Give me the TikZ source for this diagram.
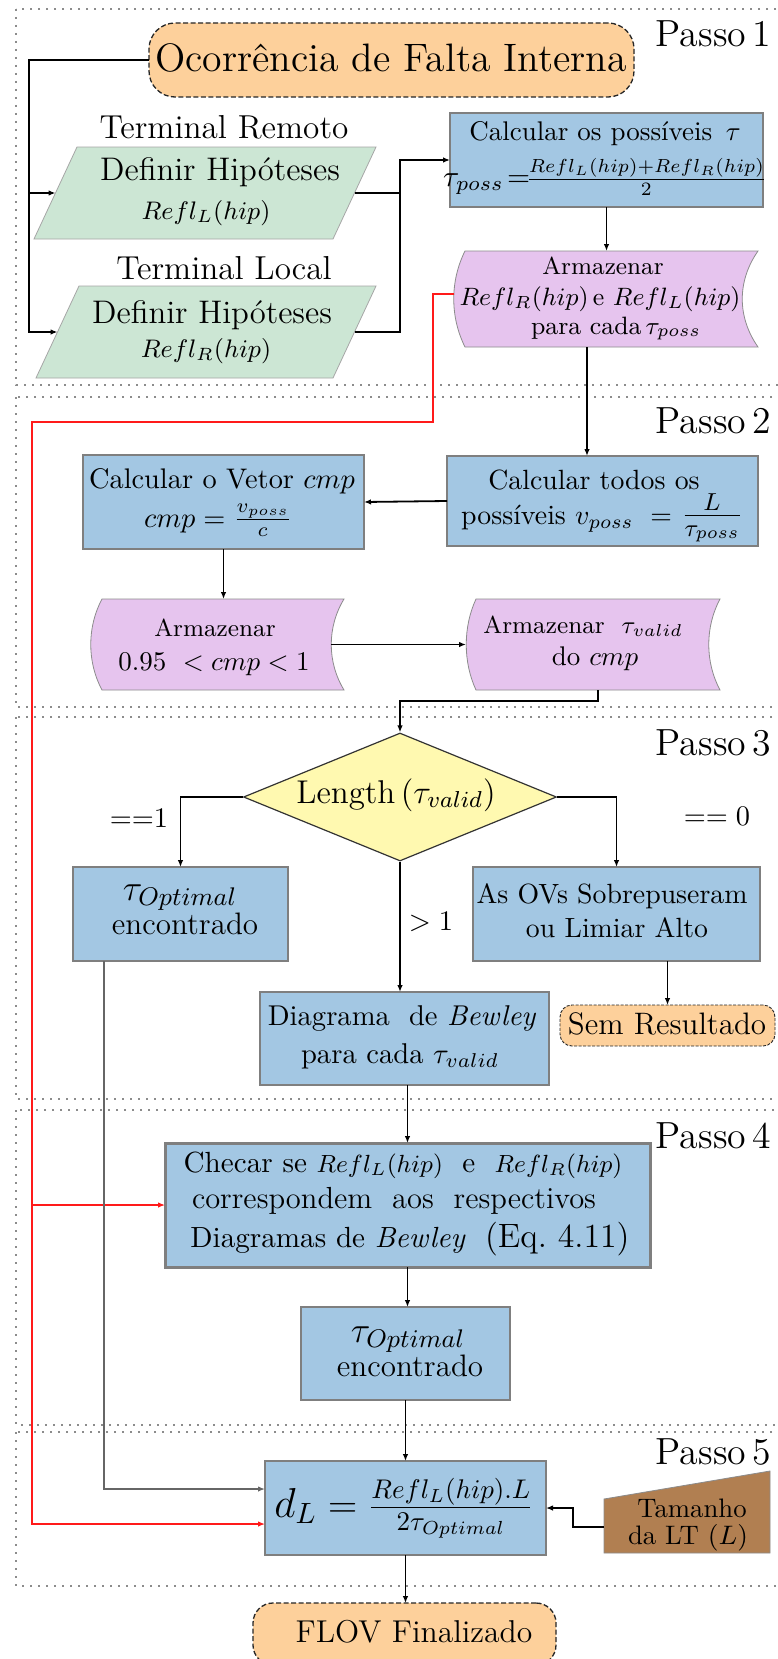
\RequirePackage{fix-cm}
\documentclass[tikz,border=0pt]{standalone}
\usepackage{graphicx}
\usetikzlibrary{arrows.meta,calc,shapes.geometric}

\definecolor{peach}{HTML}{FDD09B}
\definecolor{mint}{HTML}{CCE6D4}
\definecolor{sky}{HTML}{A3C7E3}
\definecolor{lilac}{HTML}{E6C4EE}
\definecolor{lemon}{HTML}{FFF9B0}
\definecolor{clay}{HTML}{B17F51}
\definecolor{boxline}{HTML}{7F7F7F}
\definecolor{dotline}{HTML}{8C8C8C}
\definecolor{alert}{HTML}{FF1A1A}

% text set at a nominal size and enlarged uniformly
\newcommand\txs[2]{\scalebox{2.7}{\fontsize{#1}{#1}\selectfont #2}}

\tikzset{
  stepframe/.style={draw=dotline, line width=2pt, dash pattern=on 2pt off 6pt},
  blank/.style={rectangle, inner sep=0pt, outer sep=0pt},
  procbox/.style={blank, fill=sky, draw=boxline, line width=2pt},
  termbox/.style={blank, fill=peach, draw=black!85, dash pattern=on 5pt off 2.5pt, line width=1.3pt},
  inbox/.style={fill=mint, draw=black!35, line width=0.8pt},
  storebox/.style={fill=lilac, draw=black!45, line width=0.8pt},
  lbl/.style={anchor=base, inner sep=0pt, outer sep=0pt},
  tip/.style={-{Latex[length=7pt,width=5.5pt]}},
  link/.style={tip, line width=1.3pt},
  plainlink/.style={line width=1.3pt},
  heavylink/.style={tip, line width=1.8pt},
  greylink/.style={tip, line width=1.3pt, draw=black!60},
  redlink/.style={line width=1.2pt, draw=alert, -{Latex[length=7pt,width=5.5pt,fill=alert]}},
}

\begin{document}
\begin{tikzpicture}[x=1pt,y=-1pt]
\useasboundingbox (0,0) rectangle (778,1659);
\fill[white] (0,0) rectangle (778,1659);

% dotted frames of the five steps
\begin{scope}
  \clip (0,0) rectangle (778,1659);
  \draw[stepframe] (16,9) rectangle (800,385);
  \draw[stepframe] (16,397) rectangle (800,707);
  \draw[stepframe] (16,717) rectangle (800,1099);
  \draw[stepframe] (16,1110) rectangle (800,1425);
  \draw[stepframe] (16,1432) rectangle (800,1586);
\end{scope}

\node[lbl, anchor=base east] (passo1) at (771,47) {\txs{14}{Passo\,1}};
\node[lbl, anchor=base east] (passo2) at (771,433) {\txs{14}{Passo\,2}};
\node[lbl, anchor=base east] (passo3) at (771,755) {\txs{14}{Passo\,3}};
\node[lbl, anchor=base east] (passo4) at (771,1148) {\txs{14}{Passo\,4}};
\node[lbl, anchor=base east] (passo5) at (771,1464) {\txs{14}{Passo\,5}};

% ---------------- Passo 1
\node[termbox, rounded corners=26pt, minimum width=485pt, minimum height=74pt] (start) at (391.5,60) {};
\node[lbl] (startT) at (391,72) {\txs{14.7}{Ocorrência de Falta Interna}};

\node[lbl] (remT) at (224,139) {\txs{12.3}{Terminal Remoto}};
\node[lbl] (locT) at (224,279) {\txs{12.3}{Terminal Local}};

\node[blank, minimum width=342pt, minimum height=92pt] (p1) at (205,193) {};
\path[inbox] ($(p1.north west)+(43,0)$) -- (p1.north east) -- ($(p1.south east)+(-43,0)$) -- (p1.south west) -- cycle;
\node[lbl] (p1a) at (220,180) {\txs{12.1}{Definir Hipóteses}};
\node[lbl] (p1b) at (206,219) {\txs{9.4}{$Refl_L(hip)$}};

\node[blank, minimum width=340pt, minimum height=92pt] (p2) at (206,332) {};
\path[inbox] ($(p2.north west)+(43,0)$) -- (p2.north east) -- ($(p2.south east)+(-43,0)$) -- (p2.south west) -- cycle;
\node[lbl] (p2a) at (212,323) {\txs{12.1}{Definir Hipóteses}};
\node[lbl] (p2b) at (206,357) {\txs{9.4}{$Refl_R(hip)$}};

\node[procbox, minimum width=313pt, minimum height=94pt] (calc) at (606.5,160) {};
\node[lbl] (calcA) at (605,141) {\txs{10}{Calcular os possíveis\ \,$\tau$}};
\node[lbl] (calcB) at (605,186) {\txs{10}{{\fontsize{11}{11}\selectfont$\tau_{poss}\!=$}$\!\frac{Refl_L(hip)+Refl_R(hip)}{2}$}};

\node[blank, minimum width=293pt, minimum height=96pt] (arm1) at (611.5,299) {};
\path[storebox] (arm1.north west) -- (arm1.north east)
  .. controls +(-21,30) and +(-21,-30) .. (arm1.south east) -- (arm1.south west)
  .. controls +(-15,-30) and +(-15,30) .. (arm1.north west) -- cycle;
\node[lbl] (arm1a) at (603,274) {\txs{9.1}{Armazenar}};
\node[lbl] (arm1b) at (600,305) {\txs{9.3}{$Refl_R(hip)$\,e $Refl_L(hip)$}};
\node[lbl] (arm1c) at (616,334) {\txs{9.3}{para cada\,$\tau_{poss}$}};

% ---------------- Passo 2
\node[procbox, minimum width=311pt, minimum height=90pt] (ctodos) at (602.5,501) {};
\node[lbl] (ctodosA) at (594,489) {\txs{10.3}{Calcular todos os}};
\node[lbl] (ctodosB) at (602,524) {\txs{10.3}{possíveis\ $v_{poss}\ =\ ${\fontsize{13}{13}\selectfont$\frac{L}{\tau_{poss}}$}}};

\node[procbox, minimum width=281pt, minimum height=94pt] (ccmp) at (223.5,502) {};
\node[lbl] (ccmpA) at (222,488) {\txs{10.5}{Calcular o Vetor $cmp$}};
\node[lbl] (ccmpB) at (218,527) {\txs{10.5}{$cmp = \frac{v_{poss}}{c}$}};

\node[blank, minimum width=242pt, minimum height=91pt] (arm2) at (223,644.5) {};
\path[storebox] (arm2.north west) -- (arm2.north east)
  .. controls +(-17,28) and +(-17,-28) .. (arm2.south east) -- (arm2.south west)
  .. controls +(-15,-28) and +(-15,28) .. (arm2.north west) -- cycle;
\node[lbl] (arm2a) at (215,636) {\txs{9.1}{Armazenar}};
\node[lbl] (arm2b) at (214,670) {\txs{10}{$0.95\ < cmp < 1$}};

\node[blank, minimum width=244pt, minimum height=91pt] (arm3) at (598,644.5) {};
\path[storebox] (arm3.north west) -- (arm3.north east)
  .. controls +(-15,28) and +(-15,-28) .. (arm3.south east) -- (arm3.south west)
  .. controls +(-13,-28) and +(-13,28) .. (arm3.north west) -- cycle;
\node[lbl] (arm3a) at (583,633) {\txs{9.1}{Armazenar\ \ $\tau_{valid}$}};
\node[lbl] (arm3b) at (595,665) {\txs{10}{do $cmp$}};

% ---------------- Passo 3
\node[diamond, draw=black!80, fill=lemon, line width=1.2pt, minimum width=313pt, minimum height=128pt, inner sep=0pt] (dia) at (400,797) {};
\node[lbl] (diaT) at (396,803) {\txs{12.2}{Length\,$(\tau_{valid})$}};

\node[lbl] (eq1) at (139,827) {\txs{10.5}{==1}};
\node[lbl] (eq0) at (717,825) {\txs{10.5}{$==0$}};
\node[lbl] (gt1) at (431,930) {\txs{10.5}{$>1$}};

\node[procbox, minimum width=215pt, minimum height=94pt] (topt1) at (180.5,914) {};
\node[lbl] (topt1a) at (180,900) {\txs{13.5}{$\tau_{Optimal}$}};
\node[lbl] (topt1b) at (185,934) {\txs{11.5}{encontrado}};

\node[procbox, minimum width=287pt, minimum height=94pt] (ovs) at (616.5,914) {};
\node[lbl] (ovsA) at (612,903) {\txs{10.3}{As OVs Sobrepuseram}};
\node[lbl] (ovsB) at (617,937) {\txs{10.3}{ou Limiar Alto}};

\node[procbox, minimum width=289pt, minimum height=93pt] (bew) at (404.5,1038.5) {};
\node[lbl] (bewA) at (402,1025) {\txs{10.6}{Diagrama\ \ de \textit{Bewley}}};
\node[lbl] (bewB) at (400,1063) {\txs{10.6}{para cada $\tau_{valid}$}};

\node[termbox, rounded corners=12pt, dash pattern=on 3pt off 1.5pt, line width=0.9pt, minimum width=215pt, minimum height=41pt] (sem) at (667.5,1025.5) {};
\node[lbl] (semT) at (667,1034) {\txs{11.5}{Sem Resultado}};

% ---------------- Passo 4
\node[procbox, line width=3pt, minimum width=485pt, minimum height=124pt] (checar) at (407.5,1205) {};
\node[lbl] (checarA) at (403,1172) {\txs{10.8}{Checar se {\fontsize{9.2}{9.2}\selectfont$Refl_L(hip)$}\ \ e\ \ {\fontsize{9.2}{9.2}\selectfont$Refl_R(hip)$}}};
\node[lbl] (checarB) at (394,1208) {\txs{11.3}{correspondem\ \ aos\ \ respectivos}};
\node[lbl] (checarC) at (410,1247) {\txs{10.8}{Diagramas de \textit{Bewley}\ \ {\fontsize{12.5}{12.5}\selectfont(Eq.\ 4.11)}}};

\node[procbox, minimum width=209pt, minimum height=93pt] (topt2) at (405.5,1353.5) {};
\node[lbl] (topt2a) at (408,1342) {\txs{13.5}{$\tau_{Optimal}$}};
\node[lbl] (topt2b) at (410,1376) {\txs{11.5}{encontrado}};

% ---------------- Passo 5
\node[procbox, minimum width=281pt, minimum height=94pt] (dl) at (405.5,1508) {};
\node[lbl] (dlT) at (404,1517) {\txs{14.4}{{\fontsize{15.5}{15.5}\selectfont$d_L$}$\;=\frac{Refl_L(hip).L}{2\tau_{Optimal}}$}};

\node[blank, minimum width=166pt, minimum height=82pt] (tam) at (687,1512) {};
\path[fill=clay, draw=black!45, line width=0.8pt] ($(tam.north west)+(0,28)$) -- (tam.north east) -- (tam.south east) -- (tam.south west) -- cycle;
\node[lbl] (tamA) at (692,1517) {\txs{9.9}{Tamanho}};
\node[lbl] (tamB) at (688,1544) {\txs{9.9}{da LT\ $(L)$}};

\node[termbox, rounded corners=20pt, minimum width=303pt, minimum height=62pt] (flov) at (404.5,1634) {};
\node[lbl] (flovT) at (414,1642) {\txs{11.7}{FLOV Finalizado}};

% ---------------- connectors
\coordinate (rail) at (29,0);
\coordinate (joint) at (400,0);
\coordinate (p1in) at ($(p1.west)+(21.5,0)$);
\coordinate (p2in) at ($(p2.west)+(21.5,0)$);
\coordinate (p1out) at ($(p1.east)+(-21.5,0)$);
\coordinate (p2out) at ($(p2.east)+(-21.5,0)$);

\draw[link] (start.west) -- (start.west -| rail) |- (p2in);
\draw[link] (rail |- p1in) -- (p1in);
\draw[plainlink] (p1out) -- (p1out -| joint);
\draw[link] (p2out) -| (joint |- calc.west) -- (calc.west);

\draw[link] (calc.south) -- (calc.south |- arm1.north);

\coordinate (arm1out) at ($(arm1.south)+(-24.5,0)$);
\draw[heavylink] (arm1out) -- (arm1out |- ctodos.north);

\coordinate (arm1left) at ($(arm1.west)+(-11,-5)$);
\coordinate (redturn) at (433,422);
\coordinate (redrail) at (32,422);
\coordinate (dlred) at ($(dl.west)+(0,16)$);
\draw[redlink] (arm1left) -| (redturn) -- (redrail) |- (dlred);
\draw[redlink] (checar.west -| redrail) -- (checar.west);

\draw[heavylink] (ctodos.west) -- (ccmp.east);
\draw[link] (ccmp.south) -- (ccmp.south |- arm2.north);
\draw[heavylink] ($(arm2.east)+(-13,0)$) -- ($(arm3.west)+(-10,0)$);
\draw[heavylink] (arm3.south) -- ++(0,11) -| (dia.north);

\draw[link] (dia.west) -| (topt1.north);
\draw[link] (dia.east) -| (ovs.north);
\draw[heavylink] (dia.south) -- (dia.south |- bew.north);
\draw[link] (ovs.south -| sem.north) -- (sem.north);

\coordinate (topt1out) at ($(topt1.south)+(-76.5,0)$);
\coordinate (dlgrey) at ($(dl.west)+(0,-19)$);
\draw[greylink] (topt1out) |- (dlgrey);

\draw[link] (checar.north |- bew.south) -- (checar.north);
\draw[link] (checar.south) -- (checar.south |- topt2.north);
\draw[link] (topt2.south) -- (topt2.south |- dl.north);
\draw[link] (dl.south) -- (dl.south |- flov.north);

\coordinate (tamin) at ($(tam.west)+(0,15)$);
\draw[link] (tamin) -- ++(-31,0) |- (dl.east);
\end{tikzpicture}
\end{document}
